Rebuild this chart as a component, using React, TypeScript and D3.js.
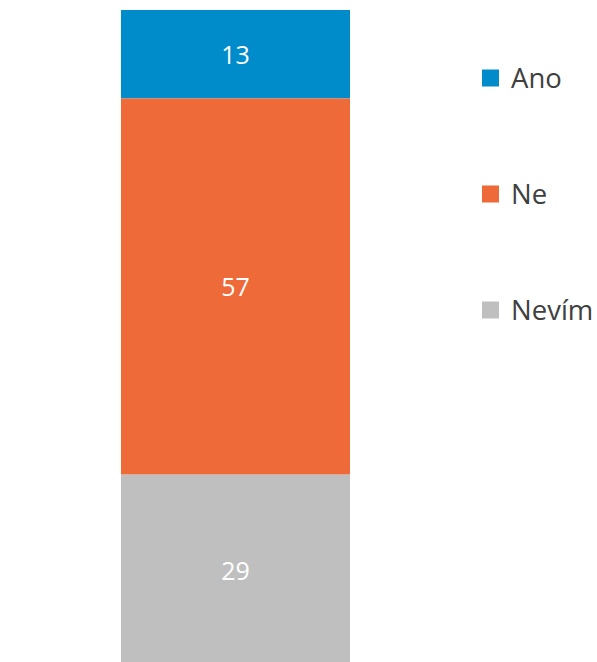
import React from "react";
import * as d3 from "d3";

const categories = ["Ano", "Ne", "Nevím"];
const values = [13.4, 57, 29];
const colors = ["#008BCB", "#EE6A38", "#BFBFBF"];

const W = 597;
const H = 662;

export default function App() {
  const x = d3.scaleBand().domain(["all"]).range([121, 350]).padding(0);
  const total = d3.sum(values);
  const y = d3.scaleLinear().domain([0, total]).range([10, 10 + total * 6.6]);
  const stack = d3.stack<any>().keys(categories)([
    Object.fromEntries(categories.map((c, i) => [c, values[i]])),
  ]);
  const fmt = d3.format(".0f");
  const legendY = d3.scalePoint().domain(categories).range([78, 310]);

  return (
    <svg
      width={W}
      height={H}
      style={{ position: "absolute", left: 0, top: 0, background: "#fff" }}
      fontFamily="'Open Sans', 'Segoe UI', sans-serif"
    >
      {stack.map((s, i) => {
        const [y0, y1] = s[0];
        return (
          <g key={categories[i]}>
            <rect
              x={x("all")}
              y={y(y0)}
              width={x.bandwidth()}
              height={y(y1) - y(y0)}
              fill={colors[i]}
            />
            <text
              x={x("all")! + x.bandwidth() / 2}
              y={(y(y0) + y(y1)) / 2 + 1}
              dy="0.35em"
              textAnchor="middle"
              fill="#fff"
              fontSize={25}
            >
              {fmt(values[i])}
            </text>
          </g>
        );
      })}
      {categories.map((c, i) => (
        <g key={c} transform={`translate(482, ${legendY(c)})`}>
          <rect x={0} y={-8.5} width={17} height={17} fill={colors[i]} />
          <text x={29} y={0} dy="0.36em" fontSize={27.5} fill="#404040">
            {c}
          </text>
        </g>
      ))}
    </svg>
  );
}
